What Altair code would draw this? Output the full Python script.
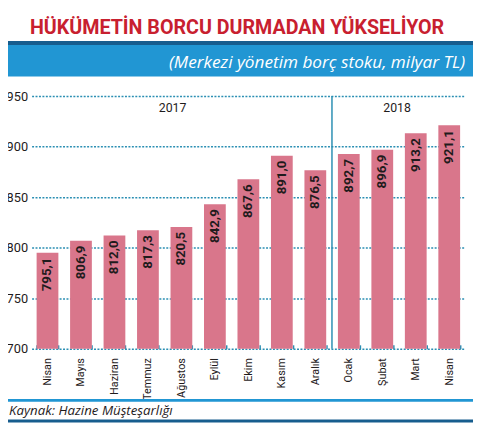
import altair as alt
import pandas as pd

# ---- data ----
keys = ["Nisan17", "Mayıs", "Haziran", "Temmuz", "Ağustos", "Eylül", "Ekim",
        "Kasım", "Aralık", "Ocak", "Şubat", "Mart", "Nisan18"]
month_labels = ["Nisan", "Mayıs", "Haziran", "Temmuz", "Ağustos", "Eylül", "Ekim",
                "Kasım", "Aralık", "Ocak", "Şubat", "Mart", "Nisan"]
values = [795.1, 806.9, 812.0, 817.3, 820.5, 842.9, 867.6, 891.0, 876.5,
          892.7, 896.9, 913.2, 921.1]
years = ["2017"] * 9 + ["2018"] * 4
y_ticks = [700, 750, 800, 850, 900, 950]

TITLE = "HÜKÜMETİN BORCU DURMADAN YÜKSELİYOR"
SUBTITLE = "(Merkezi yönetim borç stoku, milyar TL)"
SOURCE = "Kaynak: Hazine Müşteşarlığı"

NARROW = "Roboto, Liberation Sans, sans-serif"
HUMAN = "Open Sans, Noto Sans, DejaVu Sans, sans-serif"
PINK = "#d9768b"
TEAL = "#2b8fb3"
BLUE = "#2196d3"
DARKBLUE = "#175d8e"
RED = "#c8202f"
INK = "#1f1b1c"

W, H = 441, 257

df = pd.DataFrame({"key": keys, "label": [f"{v:.1f}".replace(".", ",") for v in values],
                   "v": values, "year": years})
label_map = "{" + ",".join(f"'{k}':'{m}'" for k, m in zip(keys, month_labels)) + "}"

xenc = alt.X("key:N", sort=keys,
             scale=alt.Scale(paddingInner=0.35, paddingOuter=0.15),
             axis=alt.Axis(title=None, labelAngle=-90, labelExpr=label_map + "[datum.value]",
                           labelFont=NARROW, labelFontSize=11, labelColor=INK,
                           tickBand="extent", tickSize=4, tickColor=TEAL, tickWidth=1.5,
                           offset=-4, domain=False, labelPadding=9, grid=False))
yenc = alt.Y("v:Q", scale=alt.Scale(domain=[700, 950], nice=False, zero=False),
             axis=alt.Axis(values=y_ticks, title=None, domain=False, ticks=False,
                           labelPadding=4, labelFont=NARROW, labelFontSize=13,
                           labelColor=INK, gridDash=[2, 1.5], gridColor=TEAL,
                           gridWidth=1.5))

bars = alt.Chart(df).mark_bar(color=PINK).encode(x=xenc, y=yenc, y2=alt.datum(700))

vals = alt.Chart(df).mark_text(angle=270, align="right", baseline="middle", dx=-5,
                               font=NARROW, fontSize=13.5, fontWeight="bold",
                               color=INK).encode(x=alt.X("key:N", sort=keys), y="v:Q",
                                                 text="label:N")

# separator between the two years: right after the last 2017 bar
sep_df = pd.DataFrame({"key": ["Aralık"], "top": [950], "bot": [700]})
sep = alt.Chart(sep_df).mark_rule(color=TEAL, strokeWidth=1.5).encode(
    x=alt.X("key:N", sort=keys), xOffset=alt.value(28),
    y="top:Q", y2="bot:Q")

yr_df = pd.DataFrame({"key": ["Ağustos", "Şubat"], "year": ["2017", "2018"]})
yr17 = alt.Chart(yr_df[yr_df.year == "2017"]).mark_text(
    font=NARROW, fontSize=12.5, color=INK, baseline="middle", dx=-9).encode(
    x=alt.X("key:N", sort=keys), y=alt.value(12), text="year:N")
yr18 = alt.Chart(yr_df[yr_df.year == "2018"]).mark_text(
    font=NARROW, fontSize=12.5, color=INK, baseline="middle", dx=15).encode(
    x=alt.X("key:N", sort=keys), y=alt.value(12), text="year:N")

one = pd.DataFrame({"a": [0]})
dark_top = alt.Chart(one).mark_rect(color=DARKBLUE).encode(
    x=alt.value(-24), x2=alt.value(449), y=alt.value(-56), y2=alt.value(-52))
band = alt.Chart(one).mark_rect(color=BLUE).encode(
    x=alt.value(-24), x2=alt.value(449), y=alt.value(-52), y2=alt.value(-20))
title = alt.Chart(pd.DataFrame({"t": [TITLE]})).mark_text(
    font=NARROW, fontSize=20, fontWeight="bold", color=RED, align="center",
    baseline="alphabetic").encode(x=alt.value(209), y=alt.value(-63), text="t:N")
subtitle = alt.Chart(pd.DataFrame({"t": [SUBTITLE]})).mark_text(
    font=HUMAN, fontSize=17.5, fontStyle="italic", color="white", align="right",
    baseline="middle").encode(x=alt.value(441), y=alt.value(-34), text="t:N")
blue_bot = alt.Chart(one).mark_rect(color=BLUE).encode(
    x=alt.value(-24), x2=alt.value(449), y=alt.value(308), y2=alt.value(311))
dark_bot = alt.Chart(one).mark_rect(color=DARKBLUE).encode(
    x=alt.value(-24), x2=alt.value(449), y=alt.value(329), y2=alt.value(332))
source = alt.Chart(pd.DataFrame({"t": [SOURCE]})).mark_text(
    font=HUMAN, fontSize=13.5, fontStyle="italic", color=INK, align="left",
    baseline="middle").encode(x=alt.value(-23), y=alt.value(320), text="t:N")

chart = alt.layer(bars, vals, sep, yr17, yr18, dark_top, band, title, subtitle,
                  blue_bot, dark_bot, source).properties(
    width=W, height=H,
    autosize=alt.AutoSizeParams(type="none"),
    padding={"left": 24, "top": 86, "right": 8, "bottom": 76},
    background="white",
).configure_view(stroke=None)

chart.save("out.html", embed_options={"renderer": "svg", "actions": False})
